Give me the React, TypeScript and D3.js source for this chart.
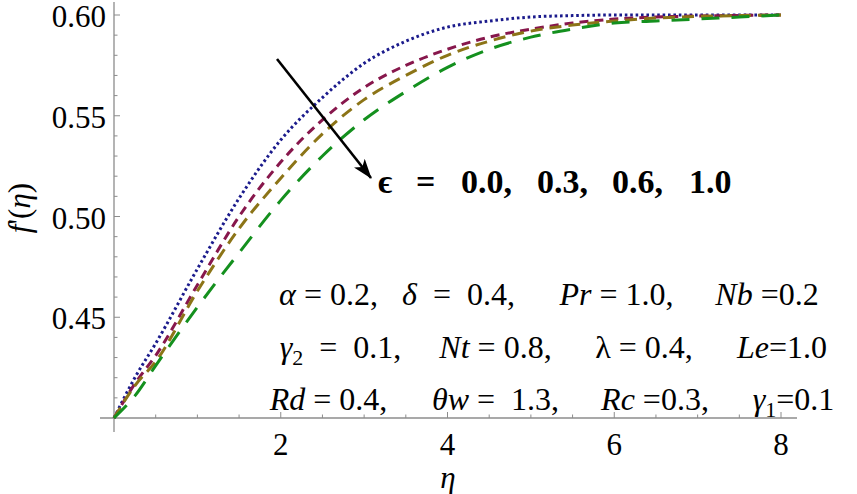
import React from "react";
import * as d3 from "d3";

const W = 857;
const H = 494;

const etaGrid = [0, 0.25, 0.5, 1.0, 1.5, 2.0, 2.5, 3.0, 3.5, 4.0, 4.5, 5.0, 5.5, 6.0, 6.5, 7.0, 7.5, 8.0];
const fEps00 = [0.4, 0.42, 0.437, 0.474, 0.509, 0.538, 0.559, 0.576, 0.587, 0.594, 0.597, 0.599, 0.5997, 0.6, 0.6, 0.6, 0.6, 0.6];
const fEps03 = [0.4, 0.417, 0.431, 0.466, 0.5, 0.527, 0.548, 0.564, 0.575, 0.583, 0.589, 0.593, 0.596, 0.598, 0.599, 0.5995, 0.5998, 0.6];
const fEps06 = [0.4, 0.416, 0.428, 0.463, 0.494, 0.519, 0.541, 0.558, 0.57, 0.58, 0.587, 0.592, 0.595, 0.597, 0.5985, 0.5993, 0.5997, 0.6];
const fEps10 = [0.4, 0.411, 0.426, 0.455, 0.482, 0.508, 0.53, 0.548, 0.562, 0.574, 0.583, 0.589, 0.593, 0.596, 0.597, 0.598, 0.599, 0.6];

const seriesColors = ["#1b1b8c", "#87174c", "#8c7417", "#14901e"];
const seriesDash = ["2.6,2.8", "9,6", "12,7", "18,12"];

const xMajorTicks = [2, 4, 6, 8];
const yMajorTicks = [0.45, 0.5, 0.55, 0.6];
const yTickLabels = ["0.45", "0.50", "0.55", "0.60"];

const epsLabels = ["0.0,", "0.3,", "0.6,", "1.0"];

type Param = { name: string; it: boolean; sub?: string; value: string };
const paramLine1: Param[] = [
  { name: "α", it: true, value: " = 0.2," },
  { name: "δ", it: true, value: "  =  0.4," },
  { name: "Pr", it: true, value: " = 1.0," },
  { name: "Nb", it: true, value: " =0.2" },
];
const paramLine2: Param[] = [
  { name: "γ", it: true, sub: "2", value: "  =  0.1," },
  { name: "Nt", it: true, value: " = 0.8," },
  { name: "λ", it: false, value: " = 0.4," },
  { name: "Le", it: true, value: "=1.0" },
];
const paramLine3: Param[] = [
  { name: "Rd", it: true, value: " = 0.4," },
  { name: "θw", it: true, value: " =  1.3," },
  { name: "Rc", it: true, value: " =0.3," },
  { name: "γ", it: true, sub: "1", value: "=0.1" },
];

const x = d3.scaleLinear().domain([0, 8]).range([114, 781]);
const y = d3.scaleLinear().domain([0.4, 0.6]).range([418, 15]);

const serif = "Liberation Serif, Times New Roman, Times, DejaVu Serif, Noto Serif, serif";

function ParamRow({ items, spans, yb }: { items: Param[]; spans: [number, number][]; yb: number }) {
  return (
    <>
      {items.map((p, i) => (
        <text
          key={i}
          x={(spans[i][0] + spans[i][1]) / 2}
          y={yb}
          fontSize={32}
          fill="#000"
          textAnchor="middle"
          style={{ whiteSpace: "pre" }}
        >
          <tspan fontStyle={p.it ? "italic" : "normal"}>{p.name}</tspan>
          {p.sub ? (
            <tspan fontSize={22} dy={7}>
              {p.sub}
            </tspan>
          ) : null}
          <tspan dy={p.sub ? -7 : 0}>{p.value}</tspan>
        </text>
      ))}
    </>
  );
}

export default function App() {
  const series = [fEps00, fEps03, fEps06, fEps10];
  const line = d3
    .line<number>()
    .x((_, i) => x(etaGrid[i]))
    .y((d) => y(d))
    .curve(d3.curveMonotoneX);

  const xMinor = d3.range(0.5, 8.01, 0.5);
  const yMinor = d3.range(0.41, 0.6001, 0.01);
  const axisColor = "#8c8c8c";

  return (
    <svg width={W} height={H} style={{ position: "absolute", left: 0, top: 0, background: "#fff", fontFamily: serif }}>
      <defs>
        <marker id="ah" viewBox="0 0 20 14" refX="19" refY="7" markerWidth="20" markerHeight="14" markerUnits="userSpaceOnUse" orient="auto">
          <path d="M0,0 L20,7 L0,14 L5,7 Z" fill="#000" />
        </marker>
      </defs>
      {/* axes */}
      <line x1={100} x2={797} y1={y(0.4)} y2={y(0.4)} stroke={axisColor} strokeWidth={1.3} />
      <line x1={x(0)} x2={x(0)} y1={2} y2={432} stroke={axisColor} strokeWidth={1.3} />
      {xMinor.map((t) => {
        const major = xMajorTicks.includes(t);
        return (
          <line key={"xm" + t} x1={x(t)} x2={x(t)} y1={y(0.4)} y2={y(0.4) - (major ? 6 : 3.5)} stroke={axisColor} strokeWidth={1} />
        );
      })}
      {yMinor.map((t) => {
        const major = yMajorTicks.some((m) => Math.abs(m - t) < 1e-6);
        return (
          <line key={"ym" + t.toFixed(2)} x1={x(0)} x2={x(0) + (major ? 6 : 3.5)} y1={y(t)} y2={y(t)} stroke={axisColor} strokeWidth={1} />
        );
      })}
      {xMajorTicks.map((t) => (
        <text key={"xl" + t} x={x(t)} y={455} textAnchor="middle" fontSize={31} fill="#000">
          {t}
        </text>
      ))}
      {yMajorTicks.map((t, i) => (
        <text key={"yl" + t} x={106} y={y(t) + 12} textAnchor="end" fontSize={31} fill="#000">
          {yTickLabels[i]}
        </text>
      ))}
      <text x={448} y={488} textAnchor="middle" fontStyle="italic" fontSize={31}>
        η
      </text>
      <text transform="translate(30,208) rotate(-90)" textAnchor="middle" fontSize={31}>
        <tspan fontStyle="italic">f</tspan>
        <tspan>'(</tspan>
        <tspan fontStyle="italic">η</tspan>
        <tspan>)</tspan>
      </text>

      {/* curves */}
      {series.map((s, i) => (
        <path key={i} d={line(s) || ""} fill="none" stroke={seriesColors[i]} strokeWidth={3} strokeDasharray={seriesDash[i]} />
      ))}

      {/* arrow */}
      <line x1={277} y1={59} x2={371} y2={178} stroke="#000" strokeWidth={2.6} markerEnd="url(#ah)" />

      {/* epsilon label */}
      <text x={378} y={193} fontWeight="bold" fontSize={34}>ϵ</text>
      <text x={416} y={193} fontWeight="bold" fontSize={34}>=</text>
      {epsLabels.map((e, i) => (
        <text key={e} x={[461, 537, 612, 689][i]} y={193} fontWeight="bold" fontSize={34}>
          {e}
        </text>
      ))}

      <ParamRow items={paramLine1} spans={[[280, 377], [388, 529], [553, 680], [704, 830]]} yb={305} />
      <ParamRow items={paramLine2} spans={[[269, 412], [426, 565], [588, 700], [721, 843]]} yb={358} />
      <ParamRow items={paramLine3} spans={[[263, 394], [430, 561], [592, 718], [734, 853]]} yb={410} />
    </svg>
  );
}
